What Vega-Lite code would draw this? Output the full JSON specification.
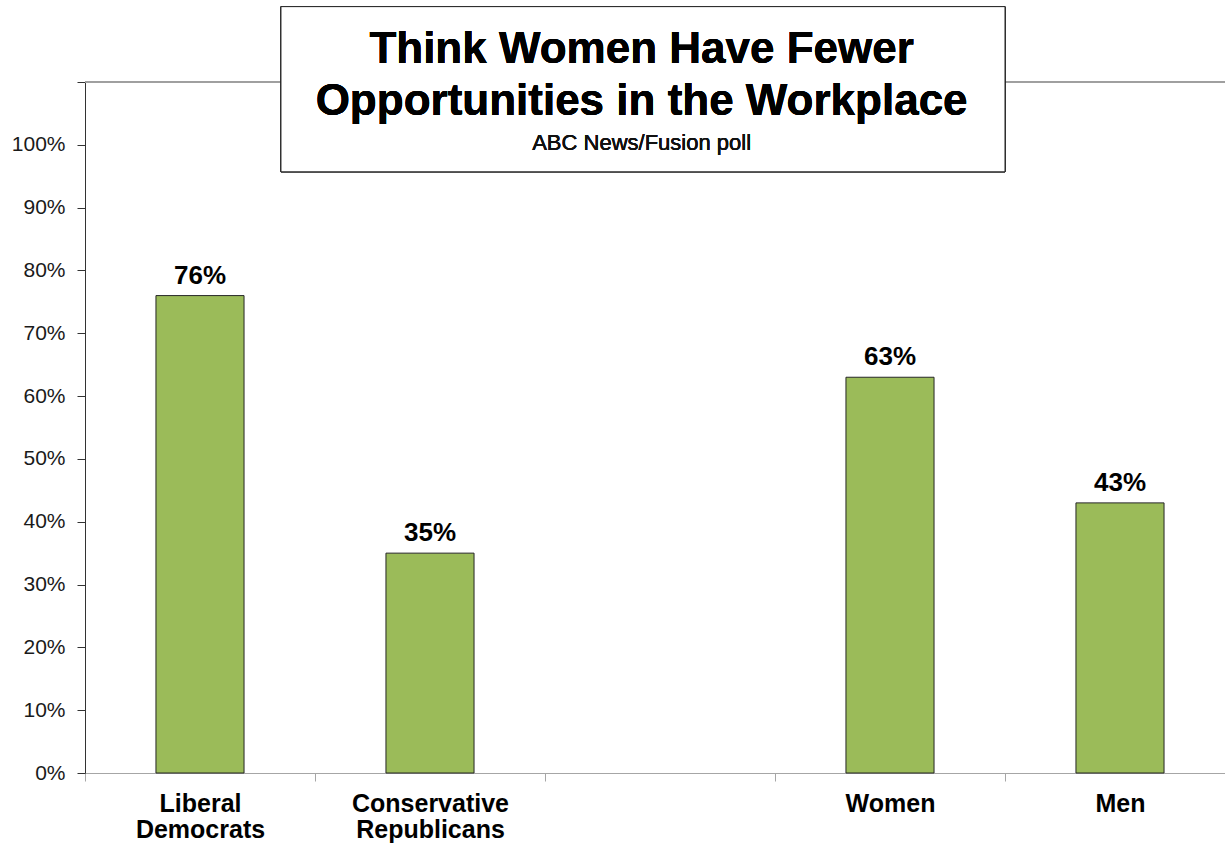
{
  "$schema": "https://vega.github.io/schema/vega-lite/v6.json",
  "width": 1140,
  "height": 691,
  "autosize": {"type": "none"},
  "padding": {"left": 85, "top": 82, "right": 0, "bottom": 72},
  "background": "white",
  "config": {"view": {"stroke": null}, "font": "Liberation Sans"},
  "data": {"values": [
    {"group": "Liberal Democrats", "value": 0.76},
    {"group": "Conservative Republicans", "value": 0.35},
    {"group": "Women", "value": 0.63},
    {"group": "Men", "value": 0.43}
  ]},
  "layer": [
    {
      "mark": {"type": "bar", "width": {"band": 0.383}, "fill": "#9BBB59", "stroke": "#262626", "strokeWidth": 1},
      "encoding": {
        "x": {
          "field": "group", "type": "nominal", "sort": null,
          "scale": {"domain": ["Liberal Democrats", "Conservative Republicans", " ", "Women", "Men"], "range": [0, 1150], "paddingInner": 0, "paddingOuter": 0},
          "axis": {"title": null, "tickBand": "extent", "labelAngle": 0, "labelFontSize": 25, "labelFontWeight": "bold", "labelColor": "#000000", "labelLineHeight": 26, "labelExpr": "split(datum.label, ' ')", "domainColor": "#a6a6a6", "tickColor": "#a6a6a6", "tickSize": 8, "labelPadding": 10, "labelLimit": 0, "labelFont": "Liberation Sans"}
        },
        "y": {
          "field": "value", "type": "quantitative",
          "scale": {"domain": [0, 1.1], "nice": false, "zero": true},
          "axis": {"title": null, "values": [0, 0.1, 0.2, 0.3, 0.4, 0.5, 0.6, 0.7, 0.8, 0.9, 1.0, 1.1], "format": ".0%", "labelExpr": "datum.value > 1.05 ? '' : datum.label", "labelFontSize": 21, "labelColor": "#1a1a1a", "tickSize": 8, "tickColor": "#333333", "domainColor": "#333333", "grid": false, "labelPadding": 12, "labelFont": "Liberation Sans"}
        }
      }
    },
    {
      "mark": {"type": "text", "fontSize": 26, "fontWeight": "bold", "color": "#000000", "baseline": "alphabetic", "dy": -12, "font": "Liberation Sans"},
      "encoding": {
        "x": {"field": "group", "type": "nominal"},
        "y": {"field": "value", "type": "quantitative"},
        "text": {"field": "value", "type": "quantitative", "format": ".0%"}
      }
    },
    {
      "mark": {"type": "rule", "color": "#999999", "strokeWidth": 1},
      "encoding": {"y": {"datum": 1.1, "type": "quantitative"}}
    },
    {
      "mark": {"type": "rect", "fill": "#ffffff", "stroke": "#222222", "strokeWidth": 1},
      "encoding": {
        "x": {"datum": "Liberal Democrats", "type": "nominal", "bandPosition": 0.852},
        "x2": {"datum": "Men", "bandPosition": 0},
        "y": {"datum": 1.22, "type": "quantitative"},
        "y2": {"datum": 0.957}
      }
    },
    {
      "mark": {"type": "text", "text": ["Think Women Have Fewer", "Opportunities in the Workplace"], "fontSize": 44, "fontWeight": "bold", "lineHeight": 52, "align": "center", "baseline": "alphabetic", "color": "#000000", "font": "Liberation Sans"},
      "encoding": {
        "x": {"datum": " ", "type": "nominal", "bandPosition": 0.42},
        "y": {"datum": 1.131, "type": "quantitative"}
      }
    },
    {
      "mark": {"type": "text", "text": "ABC News/Fusion poll", "fontSize": 22, "fontWeight": "normal", "align": "center", "baseline": "alphabetic", "color": "#111111", "font": "Liberation Sans"},
      "encoding": {
        "x": {"datum": " ", "type": "nominal", "bandPosition": 0.42},
        "y": {"datum": 0.992, "type": "quantitative"}
      }
    }
  ]
}
